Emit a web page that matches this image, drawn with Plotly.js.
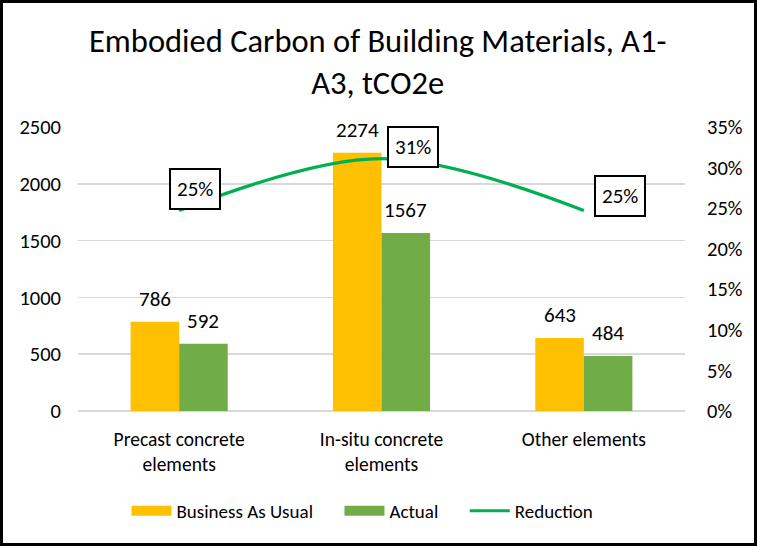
<!DOCTYPE html>
<html>
<head>
<meta charset="utf-8">
<script src="https://cdn.plot.ly/plotly-3.0.1.min.js"></script>
<style>
html,body{margin:0;padding:0;background:#fff;}
#chart{width:757px;height:546px;position:absolute;left:0;top:0;}
#frame{position:absolute;left:0;top:0;width:757px;height:546px;box-sizing:border-box;border:3px solid #000;pointer-events:none;}
</style>
</head>
<body>
<div id="chart"></div>
<div id="frame"></div>
<script>
const categories = ["Precast concrete<br>elements", "In-situ concrete<br>elements", "Other elements"];
const businessAsUsual = [786, 2274, 643];
const actual = [592, 1567, 484];
const reduction = [0.247, 0.311, 0.247];
const reductionLabels = ["25%", "31%", "25%"];
const titleText = "Embodied Carbon of Building Materials, A1-<br>A3, tCO2e";
const labelShifts = [[16, 22], [31, 12], [36, 15]];

const FONT = "Carlito, Calibri, Lato, 'Liberation Sans', sans-serif";
const YELLOW = '#FFC000', GREEN = '#70AD47', LINEGREEN = '#00B050';
const NB = '\u00A0';

const traces = [
  {
    type: 'bar', name: 'Business As Usual', x: categories, y: businessAsUsual,
    marker: {color: YELLOW}, showlegend: false
  },
  {
    type: 'bar', name: 'Actual', x: categories, y: actual,
    marker: {color: GREEN}, showlegend: false
  },
  {
    type: 'scatter', mode: 'lines', name: 'Reduction', x: categories, y: reduction,
    yaxis: 'y2', showlegend: false,
    line: {color: LINEGREEN, width: 3.2, shape: 'spline', smoothing: 1}
  },
  // legend entries (wide rectangular swatches)
  {type: 'scatter', mode: 'lines', name: 'Business As Usual' + NB.repeat(5), x: [null], y: [null],
   line: {color: YELLOW, width: 13}},
  {type: 'scatter', mode: 'lines', name: 'Actual' + NB.repeat(5), x: [null], y: [null],
   line: {color: GREEN, width: 13}},
  {type: 'scatter', mode: 'lines', name: 'Reduction', x: [null], y: [null], yaxis: 'y2',
   line: {color: LINEGREEN, width: 3}}
];

const annotations = [];
// bar value labels
[[businessAsUsual, -24], [actual, 24]].forEach(([vals, dx]) => {
  vals.forEach((v, i) => annotations.push({
    x: categories[i], y: v, xref: 'x', yref: 'y', text: String(v), showarrow: false,
    xshift: dx, yshift: 23, xanchor: 'center', yanchor: 'middle',
    font: {size: 21, color: '#000', family: FONT}
  }));
});
// reduction labels
categories.forEach((c, i) => annotations.push({
  x: c, y: reduction[i], xref: 'x', yref: 'y2',
  text: reductionLabels[i], showarrow: false,
  xshift: labelShifts[i][0], yshift: labelShifts[i][1],
  bordercolor: '#000', borderwidth: 2, borderpad: 6, bgcolor: '#fff',
  font: {size: 21, color: '#000', family: FONT}
}));
// title
annotations.push({
  text: titleText, xref: 'paper', yref: 'paper', x: (377.5 - 78) / 607, y: (411 - 62) / 284,
  xanchor: 'center', yanchor: 'middle', showarrow: false,
  font: {size: 32.5, color: '#000', family: FONT}
});

const layout = {
  width: 757, height: 546,
  margin: {l: 78, r: 72, t: 127, b: 135},
  paper_bgcolor: '#fff', plot_bgcolor: '#fff',
  font: {family: FONT, size: 19, color: '#000'},
  barmode: 'group', bargap: 0.52, bargroupgap: 0,
  xaxis: {showline: false, ticks: '', tickfont: {size: 19.5}, tickangle: 0, ticklabelstandoff: 14},
  yaxis: {
    range: [0, 2500], dtick: 500, tick0: 0, showgrid: true, gridcolor: '#D9D9D9', gridwidth: 1.5,
    zeroline: true, zerolinecolor: '#D9D9D9', zerolinewidth: 1.5, showline: false, ticks: '',
    tickfont: {size: 20.5}, ticklabelstandoff: 16
  },
  yaxis2: {
    range: [0, 0.35], dtick: 0.05, tick0: 0, overlaying: 'y', side: 'right', showgrid: false,
    zeroline: false, showline: false, ticks: '', tickformat: '.0%', tickfont: {size: 20.5},
    ticklabelstandoff: 21
  },
  showlegend: true,
  legend: {
    orientation: 'h', x: (362.5 - 78) / 607, xanchor: 'center', y: -0.352, yanchor: 'middle',
    font: {size: 19, family: FONT}, traceorder: 'normal', itemwidth: 40
  },
  annotations: annotations
};

Plotly.newPlot('chart', traces, layout, {displayModeBar: false, staticPlot: true});
</script>
</body>
</html>
